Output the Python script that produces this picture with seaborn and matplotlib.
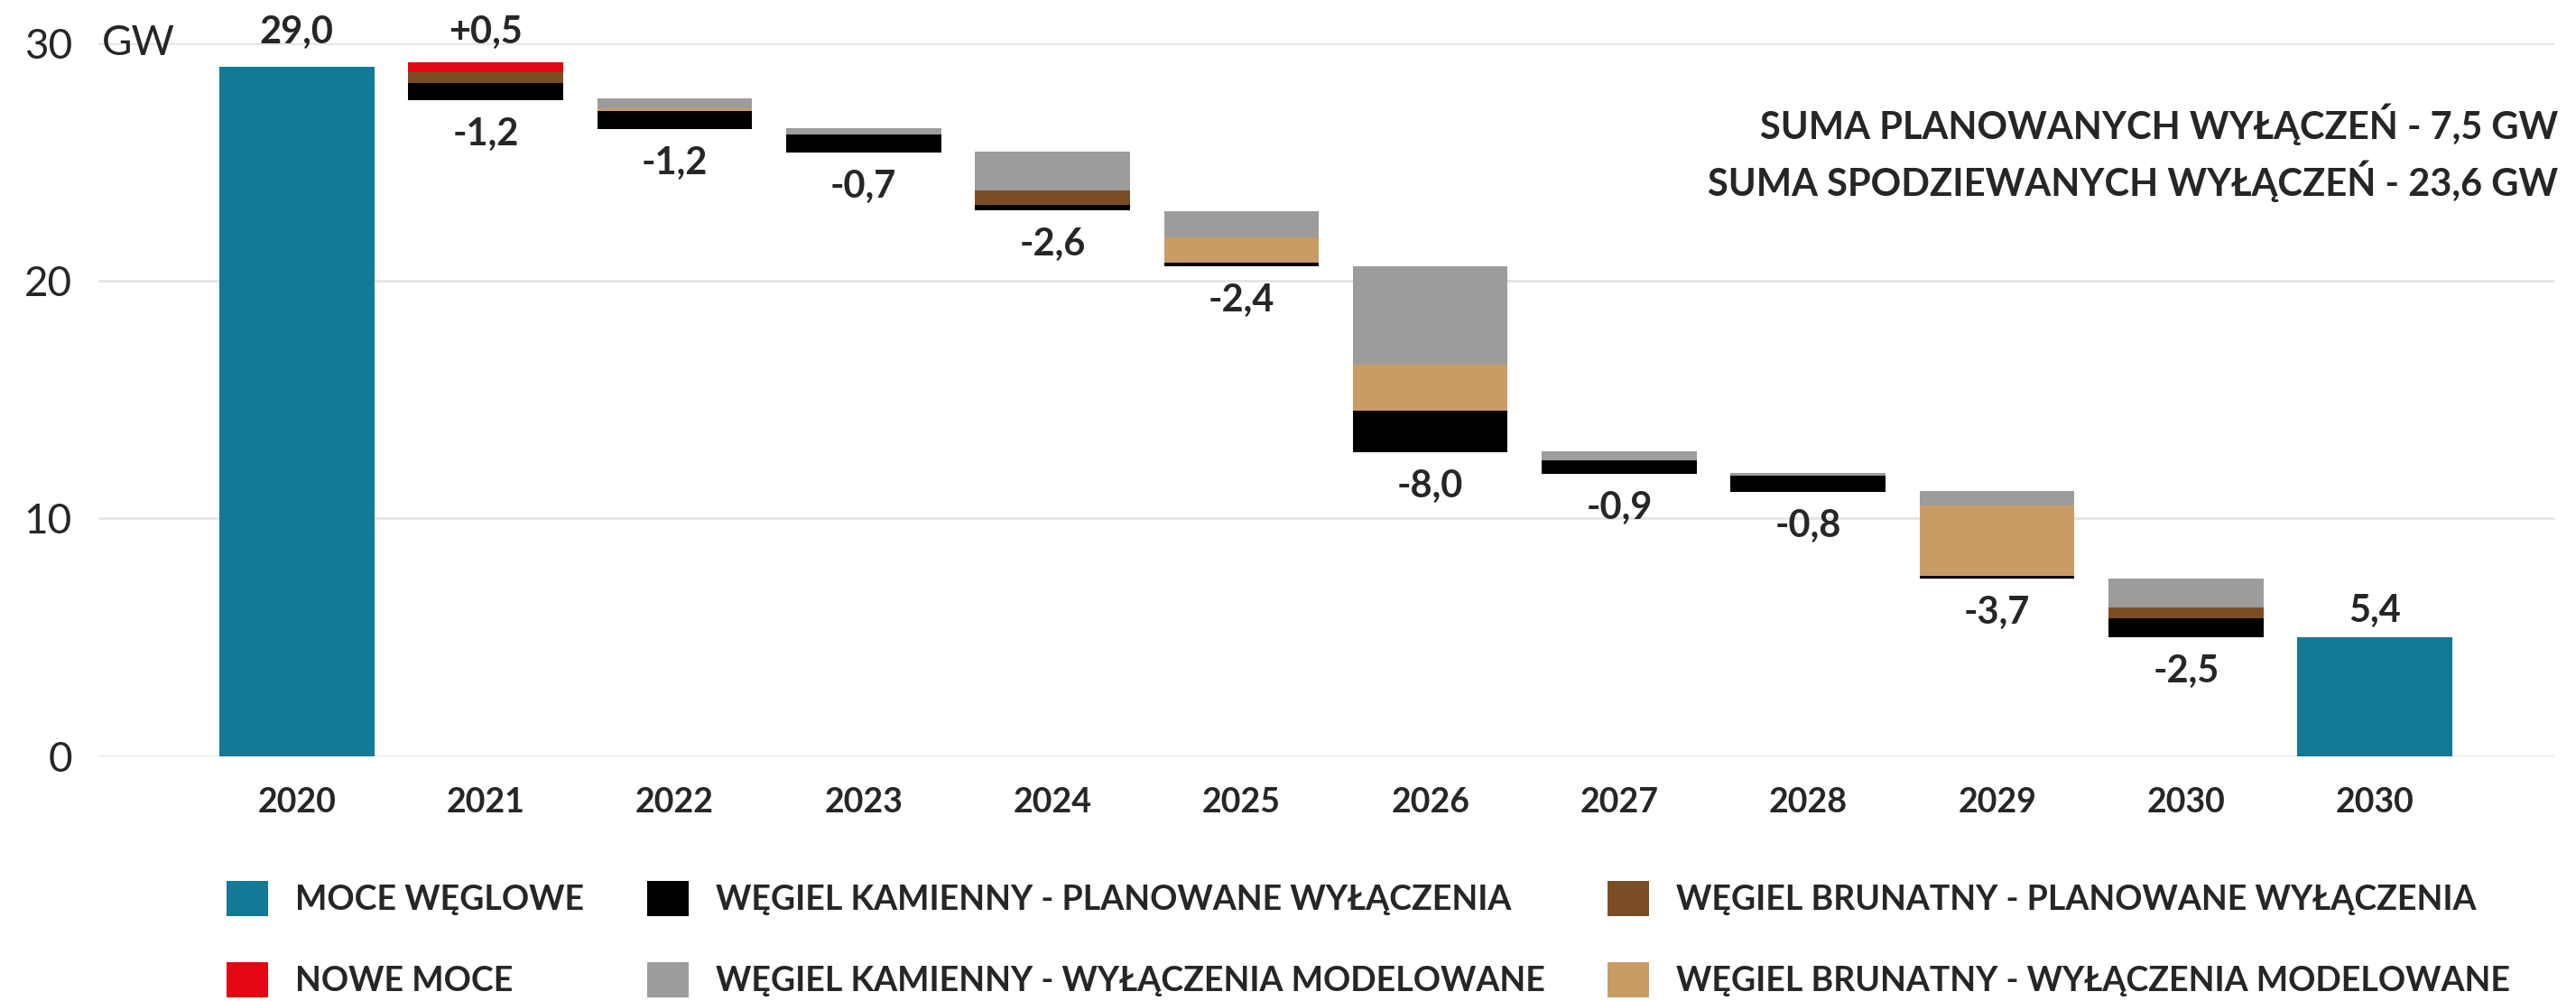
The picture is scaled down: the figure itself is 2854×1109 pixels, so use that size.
import matplotlib
matplotlib.use("Agg")
import matplotlib.pyplot as plt
from matplotlib.patches import Patch
import seaborn as sns

# wartości (GW)
lata = ["2020", "2021", "2022", "2023", "2024", "2025", "2026", "2027", "2028", "2029", "2030", "2030"]
podstawa = [0, 27.61, 26.38, 25.39, 22.98, 20.62, 12.80, 11.88, 11.12, 7.48, 5.01, 0]
moce_weglowe = [29.0, 0, 0, 0, 0, 0, 0, 0, 0, 0, 0, 5.0]
kamienny_plan = [0, 0.71, 0.77, 0.76, 0.21, 0.14, 1.73, 0.57, 0.68, 0.11, 0.79, 0]
brunatny_plan = [0, 0.45, 0, 0, 0.61, 0, 0, 0, 0, 0, 0.46, 0]
brunatny_model = [0, 0, 0.11, 0, 0, 1.05, 1.94, 0, 0, 2.96, 0, 0]
kamienny_model = [0, 0, 0.41, 0.27, 1.63, 1.12, 4.14, 0.38, 0.11, 0.60, 1.21, 0]
nowe_moce = [0, 0.42, 0, 0, 0, 0, 0, 0, 0, 0, 0, 0]
etykiety_gora = ["29,0", "+0,5", "", "", "", "", "", "", "", "", "", "5,4"]
etykiety_dol = ["", "-1,2", "-1,2", "-0,7", "-2,6", "-2,4", "-8,0", "-0,9", "-0,8", "-3,7", "-2,5", ""]
suma_plan = "SUMA PLANOWANYCH WYŁĄCZEŃ - 7,5 GW"
suma_spodz = "SUMA SPODZIEWANYCH WYŁĄCZEŃ - 23,6 GW"

kolory = {
    "MOCE WĘGLOWE": "#127996",
    "NOWE MOCE": "#E30613",
    "WĘGIEL KAMIENNY - PLANOWANE WYŁĄCZENIA": "#000000",
    "WĘGIEL KAMIENNY - WYŁĄCZENIA MODELOWANE": "#9C9C9C",
    "WĘGIEL BRUNATNY - PLANOWANE WYŁĄCZENIA": "#7B4D24",
    "WĘGIEL BRUNATNY - WYŁĄCZENIA MODELOWANE": "#C99C66",
}

sns.set_style("white")
plt.rcParams["font.family"] = ["Lato", "DejaVu Sans"]

fig = plt.figure(figsize=(28.54, 11.09), dpi=100)
ax = fig.add_axes([0.0382, 0.2446, 0.9534, 0.7124])

idx = list(range(len(lata)))
bar_kw = dict(width=0.82, saturation=1, errorbar=None, linewidth=0, ax=ax)

sns.barplot(x=idx, y=moce_weglowe, color=kolory["MOCE WĘGLOWE"], **bar_kw)

# segmenty ułożone od dołu: kamienny plan, brunatny plan, brunatny model, kamienny model, nowe moce
dol = list(podstawa)
for seria, nazwa in [
    (kamienny_plan, "WĘGIEL KAMIENNY - PLANOWANE WYŁĄCZENIA"),
    (brunatny_plan, "WĘGIEL BRUNATNY - PLANOWANE WYŁĄCZENIA"),
    (brunatny_model, "WĘGIEL BRUNATNY - WYŁĄCZENIA MODELOWANE"),
    (kamienny_model, "WĘGIEL KAMIENNY - WYŁĄCZENIA MODELOWANE"),
    (nowe_moce, "NOWE MOCE"),
]:
    sns.barplot(x=idx, y=seria, bottom=dol, color=kolory[nazwa], **bar_kw)
    dol = [d + s for d, s in zip(dol, seria)]

gora = [max(d, m) for d, m in zip(dol, moce_weglowe)]
for i in idx:
    if etykiety_gora[i]:
        if gora[i] > 28:
            y, dy = 30, 0
        else:
            y, dy = gora[i], 12
        ax.annotate(etykiety_gora[i], (i, y), xytext=(0, dy), textcoords="offset points",
                    ha="center", va="baseline", fontsize=30, fontweight="bold", annotation_clip=False)
    if etykiety_dol[i]:
        ax.annotate(etykiety_dol[i], (i, podstawa[i]), xytext=(0, -36), textcoords="offset points",
                    ha="center", va="baseline", fontsize=30, fontweight="bold")

ax.set_xlim(-1.05, 11.95)
ax.set_ylim(0, 30)
ax.set_yticks([0, 10, 20, 30])
ax.set_yticklabels(["0", "10", "20", "30"], fontsize=33)
ax.set_xticks(idx)
ax.set_xticklabels(lata, fontsize=27, fontweight="bold")
ax.tick_params(axis="y", length=0, pad=21)
ax.tick_params(axis="x", length=0, pad=25)
ax.set_xlabel("")
ax.set_ylabel("")
ax.yaxis.grid(True, color="#E3E3E3", linewidth=2)
ax.set_axisbelow(True)
sns.despine(ax=ax, left=True, bottom=True)
ax.text(-1.03, 30, "GW", fontsize=33, ha="left", va="center")

fig.text(0.993, 1 - 154 / 1109, suma_plan, ha="right", va="baseline", fontsize=30, fontweight="bold")
fig.text(0.993, 1 - 217 / 1109, suma_spodz, ha="right", va="baseline", fontsize=30, fontweight="bold")

uchwyty = [Patch(facecolor=c, edgecolor="none", label=n) for n, c in kolory.items()]
fig.legend(handles=uchwyty, ncol=3, loc="upper left", bbox_to_anchor=(251 / 2854, 1 - 976 / 1109),
           frameon=False, borderpad=0, borderaxespad=0, handlelength=1.23, handleheight=1.23,
           handletextpad=0.8, columnspacing=1.85, labelspacing=1.35,
           prop={"weight": "bold", "size": 27})

fig.savefig("out.png", dpi=100)
